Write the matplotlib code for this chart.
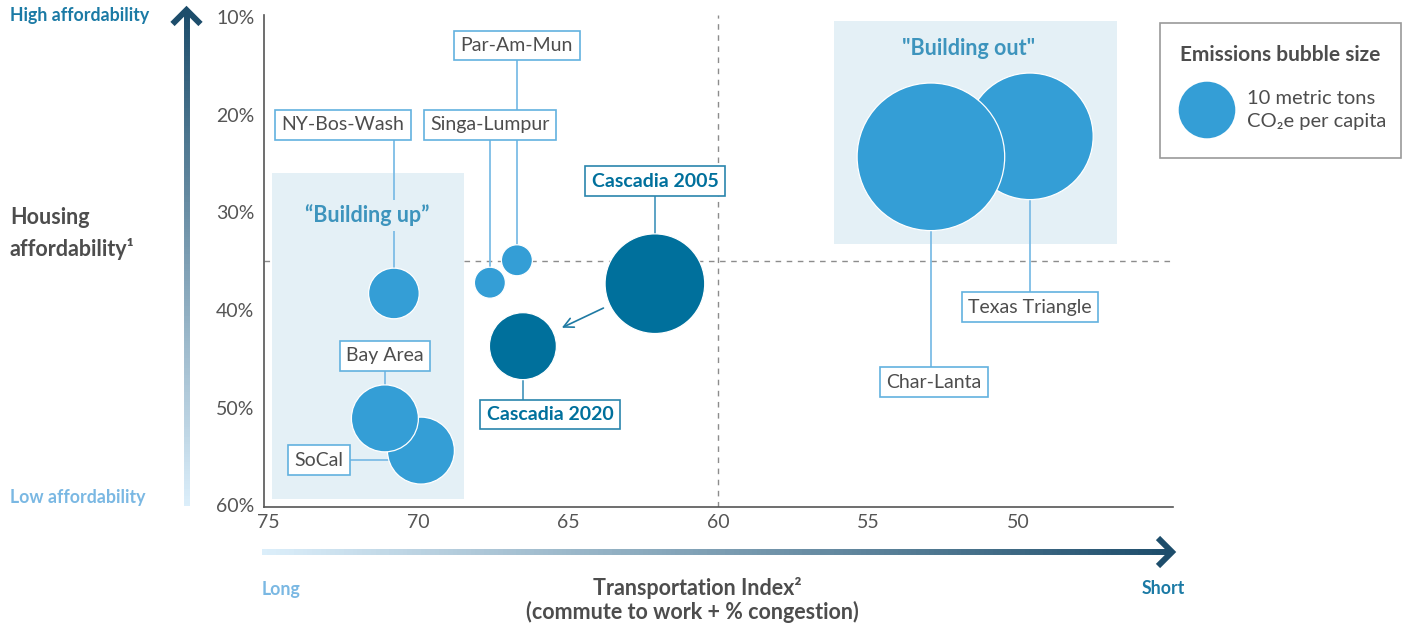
import numpy as np
import matplotlib
matplotlib.use("Agg")
import matplotlib.pyplot as plt
from matplotlib.collections import LineCollection
from matplotlib.colors import LinearSegmentedColormap
from matplotlib.patches import Rectangle

plt.rcParams["font.family"] = ["Lato", "DejaVu Sans"]

# --- data (draw order: SoCal under Bay Area, Texas under Char-Lanta) ---
regions = ["NY-Bos-Wash", "SoCal", "Bay Area", "Singa-Lumpur", "Par-Am-Mun",
           "Cascadia 2005", "Cascadia 2020", "Texas Triangle", "Char-Lanta"]
transport = [70.8, 69.9, 71.1, 67.6, 66.7, 62.1, 66.5, 49.6, 52.9]
affordability = [38.3, 54.4, 51.1, 37.2, 34.9, 37.3, 43.7, 22.2, 24.3]
emissions = [8, 14, 14, 3, 3, 31, 14, 50, 68]
label_x = [72.5, 73.3, 71.1, 67.6, 66.7, 62.1, 65.6, 49.6, 52.8]
label_y = [21.0, 55.4, 44.7, 21.0, 12.9, 26.8, 50.7, 39.7, 47.4]
connector = ["v", "h", "v", "v", "v", "v", "v", "v", "v"]
highlight = ["Cascadia 2005", "Cascadia 2020"]

x_ticks = [75, 70, 65, 60, 55, 50]
y_ticks = [10, 20, 30, 40, 50, 60]
transport_split = 60
afford_split = 35
legend_emissions = 10

# couleurs
BLUE = "#349ed6"
TEAL = "#00709c"
SHADE = "#e4f0f6"
GRAY_TXT = "#4d4d4d"
BOX_EDGE = "#62b1df"
LINK = "#7dbde6"
DARK_ARROW = "#1d4d6b"
LIGHT_ARROW = "#dbeefa"
HI_TXT = "#1b7aa5"
LO_TXT = "#7ab8e3"


def bubble_size(e):
    # radius in px ~ 28.3 for 10 t, area proportional to emissions
    r_px = 28.3 * np.sqrt(e / 10)
    return (2 * r_px * 72 / 100) ** 2


fig = plt.figure(figsize=(14.06, 6.28), dpi=100)
ax = fig.add_axes([264 / 1406, 1 - 507 / 628, 909 / 1406, 492 / 628])
ax.set_xlim(75.13, 44.83)
ax.set_ylim(60.18, 9.77)

for s in ["top", "right"]:
    ax.spines[s].set_visible(False)
for s in ["left", "bottom"]:
    ax.spines[s].set_color("#555555")
    ax.spines[s].set_linewidth(1.2)

ax.set_xticks(x_ticks)
ax.set_yticks(y_ticks)
ax.set_yticklabels([f"{v}%" for v in y_ticks])
ax.tick_params(length=0, labelsize=14, labelcolor="#555555")
ax.tick_params(axis="y", pad=7)
ax.tick_params(axis="x", pad=5)

# quadrant lines
ax.axhline(afford_split, color="#8c8c8c", lw=1, ls=(0, (4, 4)), zorder=0.5)
ax.axvline(transport_split, color="#8c8c8c", lw=1, ls=(0, (4, 4)), zorder=0.5)

# shaded zones
ax.add_patch(Rectangle((74.87, 25.97), 68.47 - 74.87, 59.4 - 25.97,
                       facecolor=SHADE, edgecolor="none", zorder=1))
ax.add_patch(Rectangle((56.13, 10.41), 46.71 - 56.13, 33.2 - 10.41,
                       facecolor=SHADE, edgecolor="none", zorder=1))
ax.text(71.69, 30.3, "\u201cBuilding up\u201d", ha="center", va="center",
        fontsize=15.5, fontweight="bold", color="#3d94bd", zorder=2.5,
        bbox=dict(boxstyle="square,pad=0.2", facecolor=SHADE, edgecolor="none"))
ax.text(51.66, 13.2, "\"Building out\"", ha="center", va="center",
        fontsize=15.5, fontweight="bold", color="#3d94bd", zorder=2.5)

# connectors and labels
for name, bx, by, lx, ly, kind in zip(regions, transport, affordability,
                                      label_x, label_y, connector):
    hi = name in highlight
    link_col = "#4f9cc0" if hi else LINK
    if kind == "v":
        ax.plot([bx, bx], [by, ly], color=link_col, lw=1.3, zorder=2)
    else:
        ax.plot([bx, lx], [ly, ly], color=link_col, lw=1.3, zorder=2)
    ax.text(lx, ly, name, ha="center", va="center", fontsize=14,
            fontweight="bold" if hi else "normal",
            color=TEAL if hi else GRAY_TXT, zorder=4,
            bbox=dict(boxstyle="square,pad=0.33", facecolor="white",
                      edgecolor="#2a85ad" if hi else BOX_EDGE, linewidth=1.2))

colors = [TEAL if n in highlight else BLUE for n in regions]
ax.scatter(transport, affordability, s=[bubble_size(e) for e in emissions],
           c=colors, edgecolors="white", linewidths=0.9, zorder=3)

# Cascadia 2005 -> 2020 arrow
i05 = regions.index("Cascadia 2005")
i20 = regions.index("Cascadia 2020")
ax.annotate("", xy=(transport[i20], affordability[i20]),
            xytext=(transport[i05], affordability[i05]),
            arrowprops=dict(arrowstyle="->,head_length=0.7,head_width=0.35",
                            color="#1f7aa3", lw=1.2, shrinkA=41, shrinkB=31),
            zorder=3.5)

# --- overlay in pixel coords for arrows, axis titles, legend ---
ov = fig.add_axes([0, 0, 1, 1])
ov.set_xlim(0, 1406)
ov.set_ylim(628, 0)
ov.axis("off")

cmap = LinearSegmentedColormap.from_list("arr", [LIGHT_ARROW, DARK_ARROW])
n = 200
ys = np.linspace(506, 12, n + 1)
segs = [[(186.5, ys[i]), (186.5, ys[i + 1])] for i in range(n)]
lc = LineCollection(segs, colors=cmap(np.linspace(0, 1, n)), linewidths=4.3,
                    capstyle="butt")
ov.add_collection(lc)
ov.plot([172.5, 186.5, 200.5], [24, 10, 24], color=DARK_ARROW, lw=4.3,
        solid_joinstyle="miter", solid_capstyle="butt")

xs = np.linspace(262, 1170, n + 1)
segs = [[(xs[i], 552), (xs[i + 1], 552)] for i in range(n)]
lc = LineCollection(segs, colors=cmap(np.linspace(0, 1, n)), linewidths=4.3,
                    capstyle="butt")
ov.add_collection(lc)
ov.plot([1158, 1172, 1158], [538, 552, 566], color=DARK_ARROW, lw=4.3,
        solid_joinstyle="miter", solid_capstyle="butt")

ov.text(10, 15, "High affordability", ha="left", va="center", fontsize=12.8,
        fontweight="bold", color=HI_TXT)
ov.text(10, 498, "Low affordability", ha="left", va="center", fontsize=12.8,
        fontweight="bold", color=LO_TXT)
ov.text(10, 217, "Housing", ha="left", va="center", fontsize=15.5,
        fontweight="bold", color=GRAY_TXT)
ov.text(10, 249, "affordability\u00b9", ha="left", va="center", fontsize=15.5,
        fontweight="bold", color=GRAY_TXT)
ov.text(281, 589, "Long", ha="center", va="center", fontsize=12.8,
        fontweight="bold", color=LO_TXT)
ov.text(1163, 589, "Short", ha="center", va="center", fontsize=12.8,
        fontweight="bold", color=HI_TXT)
ov.text(697, 588, "Transportation Index\u00b2", ha="center", va="center",
        fontsize=15.5, fontweight="bold", color=GRAY_TXT)
ov.text(692, 612, "(commute to work + % congestion)", ha="center",
        va="center", fontsize=15.5, fontweight="bold", color=GRAY_TXT)

# legend
ov.add_patch(Rectangle((1160, 23), 241, 135, facecolor="white",
                       edgecolor="#9a9a9a", linewidth=1.2))
ov.text(1280, 55, "Emissions bubble size", ha="center", va="center",
        fontsize=15, fontweight="bold", color=GRAY_TXT)
ov.scatter([1207], [110], s=bubble_size(legend_emissions), c=BLUE,
           edgecolors="none")
ov.text(1247, 98, "10 metric tons", ha="left", va="center", fontsize=14.5,
        color=GRAY_TXT)
ov.text(1247, 121, "CO\u2082e per capita", ha="left", va="center",
        fontsize=14.5, color=GRAY_TXT)

fig.savefig("out.png", dpi=100)
plt.close(fig)
